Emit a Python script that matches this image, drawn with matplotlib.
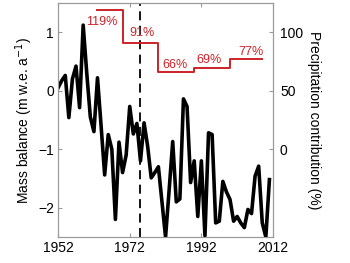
import matplotlib
matplotlib.use("Agg")
import matplotlib.pyplot as plt
import numpy as np

plt.rcParams['font.family'] = ['Liberation Sans', 'DejaVu Sans']

years = list(range(1952, 2012))
mass_balance = [
    0.05, 0.17, 0.26, -0.46, 0.20, 0.42, -0.29, 1.12, 0.30, -0.45,
    -0.70, 0.22, -0.60, -1.44, -0.75, -1.00, -2.20, -0.88, -1.40, -1.10,
    -0.27, -0.74, -0.56, -1.20, -0.55, -0.95, -1.49, -1.40, -1.30, -1.90,
    -2.50, -1.70, -0.87, -1.90, -1.85, -0.14, -0.27, -1.57, -1.20, -2.15,
    -1.20, -2.48, -0.72, -0.75, -2.26, -2.23, -1.55, -1.73, -1.86, -2.23,
    -2.15, -2.26, -2.34, -2.03, -2.10, -1.46, -1.29, -2.26, -2.50, -1.52,
]

step_edges = [1963, 1970, 1980, 1990, 2000, 2009]
precip = [119, 91, 66, 69, 77]
precip_labels = ['119%', '91%', '66%', '69%', '77%']
label_x = [1959.9, 1972.0, 1981.0, 1990.6, 2002.4]
label_y = [109, 99.6, 72, 76.5, 83.3]

vline_year = 1975
red = '#cc2229'
spine_c = '#9a9a9a'

fig = plt.figure(figsize=(3.5, 2.63), dpi=100)
ax = fig.add_axes([0.166, 0.099, 0.614, 0.890])
ax.plot(years, mass_balance, color='black', lw=2.6, solid_joinstyle='round', zorder=3)
ax.axvline(vline_year, color='black', lw=1.3, ls=(0, (5, 3)), zorder=2)
ax.set_xlim(1952, 2012)
ax.set_ylim(-2.5, 1.5)
ax.set_xticks([1952, 1972, 1992, 2012])
ax.set_yticks([-2, -1, 0, 1])
ax.set_yticklabels(['\u22122', '\u22121', '0', '1'])
ax.set_ylabel('Mass balance (m w.e. a$^{-1}$)', fontsize=10, labelpad=2)
ax.tick_params(direction='in', length=3, labelsize=10, color=spine_c, top=True, pad=3)

ax2 = ax.twinx()
sx = []
sy = []
for i, v in enumerate(precip):
    sx += [step_edges[i], step_edges[i + 1]]
    sy += [v, v]
ax2.plot(sx, sy, color=red, lw=1.4, zorder=4)
for t, xx, yy in zip(precip_labels, label_x, label_y):
    ax2.text(xx, yy, t, color=red, fontsize=9, ha='left', va='center')
ax2.set_ylim(-75, 125)
ax2.set_yticks([0, 50, 100])
ax2.set_ylabel('Precipitation contribution (%)', fontsize=10, rotation=270, labelpad=13)
ax2.tick_params(direction='in', length=3, labelsize=10, color=spine_c, pad=5)

for a in (ax, ax2):
    for s in a.spines.values():
        s.set_color(spine_c)
        s.set_linewidth(0.8)

fig.savefig('out.png', dpi=100)
